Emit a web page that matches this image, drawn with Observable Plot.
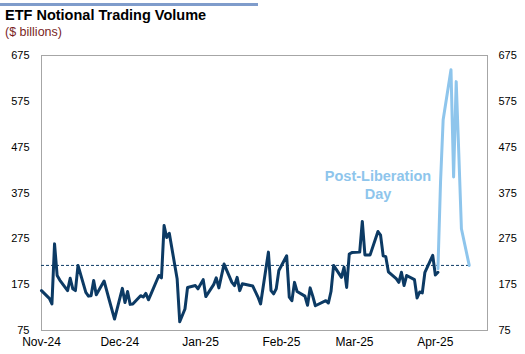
<!DOCTYPE html>
<html><head><meta charset="utf-8">
<script src="https://cdn.jsdelivr.net/npm/d3@7"></script>
<script src="https://cdn.jsdelivr.net/npm/@observablehq/plot@0.6"></script>
<style>
body{margin:0;background:#fff;font-family:"Liberation Sans",Arial,sans-serif;}
#wrap{position:relative;width:525px;height:354px;overflow:hidden;background:#fff;}
#bar{position:absolute;left:0;top:3px;width:258px;height:3px;background:#7f9ccb;}
#title{position:absolute;left:5px;top:7px;font-weight:bold;font-size:14.5px;color:#000;white-space:nowrap;}
#sub{position:absolute;left:5px;top:25px;font-size:12.5px;color:#7a1f1f;white-space:nowrap;}
#chart{position:absolute;left:0;top:44px;}
</style></head>
<body><div id="wrap"><div id="bar"></div><div id="title">ETF Notional Trading Volume</div><div id="sub">($ billions)</div><div id="chart"></div></div>
<script>
// Pre-Liberation Day daily ETF notional volume ($bn)
const preDates = [
"2024-11-01","2024-11-04","2024-11-05","2024-11-06","2024-11-07","2024-11-08","2024-11-11","2024-11-12","2024-11-13","2024-11-14","2024-11-15",
"2024-11-18","2024-11-19","2024-11-20","2024-11-21","2024-11-22","2024-11-25","2024-11-26","2024-11-27","2024-11-29",
"2024-12-02","2024-12-03","2024-12-04","2024-12-05","2024-12-06","2024-12-09","2024-12-10","2024-12-11","2024-12-12","2024-12-13",
"2024-12-16","2024-12-17","2024-12-18","2024-12-19","2024-12-20","2024-12-23","2024-12-24","2024-12-26","2024-12-27","2024-12-30","2024-12-31",
"2025-01-02","2025-01-03","2025-01-06","2025-01-07","2025-01-08","2025-01-10","2025-01-13","2025-01-14","2025-01-15","2025-01-16","2025-01-17",
"2025-01-21","2025-01-22","2025-01-23","2025-01-24","2025-01-27","2025-01-28","2025-01-29","2025-01-30","2025-01-31",
"2025-02-03","2025-02-04","2025-02-05","2025-02-06","2025-02-07","2025-02-10","2025-02-11","2025-02-12","2025-02-13","2025-02-14",
"2025-02-18","2025-02-19","2025-02-20","2025-02-21","2025-02-24","2025-02-25","2025-02-26","2025-02-27","2025-02-28",
"2025-03-03","2025-03-04","2025-03-05","2025-03-06","2025-03-07","2025-03-10","2025-03-11","2025-03-12","2025-03-13","2025-03-14",
"2025-03-17","2025-03-18","2025-03-19","2025-03-20","2025-03-21","2025-03-24","2025-03-25","2025-03-26","2025-03-27","2025-03-28",
"2025-03-31","2025-04-01","2025-04-02"];
const preValues = [
162,145,133,264,195,185,162,189,166,162,217,
158,150,151,184,153,183,162,141,100,
167,136,160,132,133,151,148,156,142,155,
195,190,304,278,287,188,94,122,169,173,166,
186,149,175,190,168,220,180,173,191,162,177,
172,160,148,133,246,162,155,166,206,
238,148,140,180,160,150,130,168,150,129,
140,135,160,217,191,213,169,242,245,
246,313,240,240,240,291,283,238,236,203,
188,180,202,173,195,186,146,159,157,202,
239,196,202];

// Post-Liberation Day
const postDates = ["2025-04-02","2025-04-03","2025-04-04","2025-04-07","2025-04-08","2025-04-09","2025-04-10","2025-04-11","2025-04-14"];
const postValues = [210,400,535,644,410,618,460,297,217];

// Average (dashed reference)
const averageValue = 217;
const averageSpan = ["2024-11-01","2025-04-14"];

const xDomain = ["2024-11-01","2025-04-21"];
const yTicks = [75,175,275,375,475,575,675];
const monthTicks = ["2024-11-01","2024-12-01","2025-01-01","2025-02-01","2025-03-01","2025-04-01"];
const monthLabels = ["Nov-24","Dec-24","Jan-25","Feb-25","Mar-25","Apr-25"];

const annotation = [{date: "2025-03-10", value: 394, label: "Post-Liberation\nDay"}];

const parse = d3.utcParse("%Y-%m-%d");
const pre = preDates.map((d,i)=>({date: parse(d), value: preValues[i]}));
const post = postDates.map((d,i)=>({date: parse(d), value: postValues[i]}));
const tickDates = monthTicks.map(parse);
const labelOf = new Map(tickDates.map((d,i)=>[+d, monthLabels[i]]));
const ann = annotation.map(a=>({...a, date: parse(a.date)}));

const navy = "#0c3a64";
const light = "#8ec5ec";

const chart = Plot.plot({
  width: 525, height: 310,
  marginLeft: 41, marginRight: 38, marginTop: 11, marginBottom: 24,
  style: {fontFamily: '"Liberation Sans", Arial, sans-serif', fontSize: "11px", color: "#000", background: "#fff"},
  x: {type: "utc", domain: xDomain.map(parse)},
  y: {domain: [75, 675]},
  marks: [
    Plot.frame({stroke: "#a6a6a6"}),
    Plot.axisY({ticks: yTicks, tickSize: 0, tickPadding: 12, anchor: "left", label: null, fontSize: 11}),
    Plot.axisY({ticks: yTicks, tickSize: 0, tickPadding: 11, anchor: "right", label: null, fontSize: 11}),
    Plot.axisX({ticks: tickDates, tickFormat: d => labelOf.get(+d), tickSize: 0, tickPadding: 7, label: null, fontSize: 12}),
    Plot.ruleY([averageValue], {x1: parse(averageSpan[0]), x2: parse(averageSpan[1]), stroke: navy, strokeWidth: 1, strokeDasharray: "3,2"}),
    Plot.line(post, {x: "date", y: "value", stroke: light, strokeWidth: 3, strokeLinejoin: "round", strokeLinecap: "round"}),
    Plot.line(pre, {x: "date", y: "value", stroke: navy, strokeWidth: 3, strokeLinejoin: "round", strokeLinecap: "round"}),
    Plot.text(ann, {x: "date", y: "value", text: "label", fill: light, fontWeight: "bold", fontSize: 14.5, lineHeight: 1.25, lineAnchor: "middle", textAnchor: "middle"})
  ]
});
document.getElementById("chart").appendChild(chart);
</script></body></html>
